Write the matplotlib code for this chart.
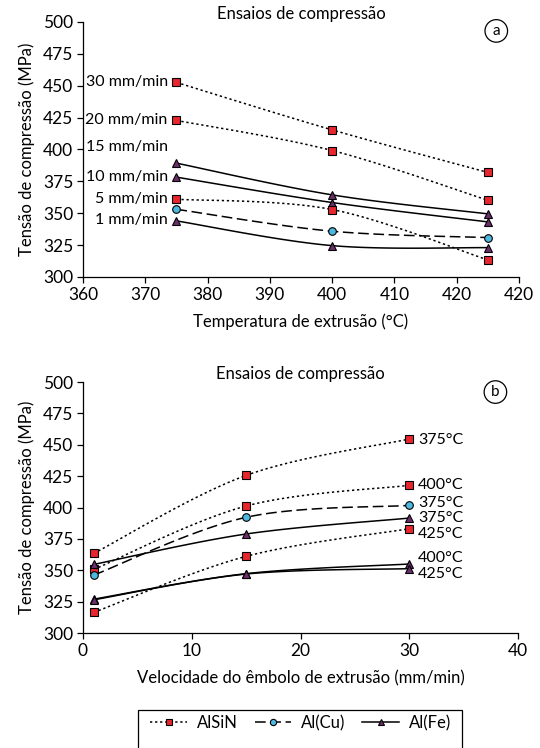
import numpy as np
import matplotlib
matplotlib.use('Agg')
import matplotlib.pyplot as plt
from matplotlib.lines import Line2D
from matplotlib.patches import Rectangle

plt.rcParams['font.family'] = ['Lato', 'DejaVu Sans']

# panel (a): stress vs extrusion temperature
temps = [375, 400, 425]
a_series = [
    # (alloy, label, values)
    ('AlSiN', '30 mm/min', [452.6, 415.4, 382.0]),
    ('AlSiN', '20 mm/min', [422.8, 399.2, 360.2]),
    ('AlFe', '15 mm/min', [389.3, 364.4, 349.5]),
    ('AlFe', '10 mm/min', [378.3, 358.4, 343.2]),
    ('AlSiN', '5 mm/min', [361.0, 352.9, 313.4]),
    ('AlCu', None, [353.1, 335.9, 330.9]),
    ('AlFe', '1 mm/min', [344.0, 324.6, 323.0]),
]
a_label_y = [452.6, 422.8, 402.0, 378.3, 361.5, 344.5]

# panel (b): stress vs ram speed
speeds = [1, 15, 30]
b_series = [
    ('AlSiN', '375°C', [363.5, 425.6, 454.6]),
    ('AlSiN', '400°C', [350.7, 401.2, 417.7]),
    ('AlCu', '375°C', [346.2, 392.2, 401.7]),
    ('AlFe', '375°C', [354.7, 378.9, 391.6]),
    ('AlSiN', '425°C', [316.5, 361.1, 383.1]),
    ('AlFe', '400°C', [327.0, 347.3, 355.0]),
    ('AlFe', '425°C', [326.5, 347.0, 351.3]),
]
b_label_y = [454.0, 417.7, 403.8, 392.0, 379.0, 359.8, 347.2]

styles = {
    'AlSiN': dict(ls=(0, (1.5, 1.8)), marker='s', mfc='#e8262d', ms=5.5),
    'AlCu': dict(ls=(0, (7, 3)), marker='o', mfc='#4db8e0', ms=5.5),
    'AlFe': dict(ls='-', marker='^', mfc='#6b2d6b', ms=6),
}
legend_names = {'AlSiN': 'AlSiN', 'AlCu': 'Al(Cu)', 'AlFe': 'Al(Fe)'}


def smooth(x, y, n=40):
    # excel-like smoothed line (catmull-rom bezier)
    x = np.asarray(x, float)
    y = np.asarray(y, float)
    px = np.concatenate([[x[0]], x, [x[-1]]])
    py = np.concatenate([[y[0]], y, [y[-1]]])
    xs, ys = [], []
    t = np.linspace(0, 1, n)
    for i in range(1, len(px) - 2):
        p0 = np.array([px[i], py[i]])
        p3 = np.array([px[i + 1], py[i + 1]])
        c1 = p0 + (np.array([px[i + 1], py[i + 1]]) - np.array([px[i - 1], py[i - 1]])) / 6
        c2 = p3 - (np.array([px[i + 2], py[i + 2]]) - np.array([px[i], py[i]])) / 6
        b = ((1 - t) ** 3)[:, None] * p0 + (3 * (1 - t) ** 2 * t)[:, None] * c1 \
            + (3 * (1 - t) * t ** 2)[:, None] * c2 + (t ** 3)[:, None] * p3
        xs.append(b[:, 0])
        ys.append(b[:, 1])
    return np.concatenate(xs), np.concatenate(ys)


def draw(ax, x, y, kind):
    st = styles[kind]
    sx, sy = smooth(x, y)
    ax.plot(sx, sy, color='black', lw=1.1, ls=st['ls'], zorder=2)
    ax.plot(x, y, ls='none', marker=st['marker'], mfc=st['mfc'], mec='black',
            mew=0.8, ms=st['ms'], zorder=3)


def style_axes(ax):
    ax.spines['top'].set_visible(False)
    ax.spines['right'].set_visible(False)
    ax.spines['left'].set_linewidth(0.9)
    ax.spines['bottom'].set_linewidth(0.9)
    ax.tick_params(direction='out', length=4, width=0.9, labelsize=12.5, pad=3)
    ax.set_ylim(300, 500)
    ax.set_yticks(np.arange(300, 501, 25))
    ax.set_ylabel('Tensão de compressão (MPa)', fontsize=12, labelpad=6)


fig = plt.figure(figsize=(5.4, 7.48), dpi=100)
ax1 = fig.add_axes([0.1537, 0.6297, 0.8073, 0.3409])
ax2 = fig.add_axes([0.1537, 0.1537, 0.8056, 0.3356])

# panel a
for kind, lab, vals in a_series:
    draw(ax1, temps, vals, kind)
labels_a = [s[1] for s in a_series if s[1] is not None]
for lab, yy in zip(labels_a, a_label_y):
    ax1.text(373.6, yy, lab, ha='right', va='center', fontsize=11.5)
style_axes(ax1)
ax1.set_xlim(360, 430)
ax1.set_xticks(np.arange(360, 431, 10))
ax1.set_xticklabels(['360', '370', '380', '390', '400', '410', '420', '420'])
ax1.set_xlabel('Temperatura de extrusão (°C)', fontsize=12, labelpad=8)
ax1.set_title('Ensaios de compressão', fontsize=12, pad=-2)
ax1.text(0.948, 0.965, 'a', transform=ax1.transAxes, ha='center', va='center',
         fontsize=11, bbox=dict(boxstyle='circle,pad=0.28', fc='white', ec='black', lw=0.9))

# panel b
for kind, lab, vals in b_series:
    draw(ax2, speeds, vals, kind)
for (kind, lab, vals), yy in zip(b_series, b_label_y):
    ax2.text(30.8, yy, lab, ha='left', va='center', fontsize=11.5)
style_axes(ax2)
ax2.set_xlim(0, 40)
ax2.set_xticks(np.arange(0, 41, 10))
ax2.set_xlabel('Velocidade do êmbolo de extrusão (mm/min)', fontsize=12, labelpad=8)
ax2.set_title('Ensaios de compressão', fontsize=12, pad=-2)
ax2.text(0.948, 0.96, 'b', transform=ax2.transAxes, ha='center', va='center',
         fontsize=11, bbox=dict(boxstyle='circle,pad=0.28', fc='white', ec='black', lw=0.9))

# legend with box running off the bottom edge
handles = []
for kind in ['AlSiN', 'AlCu', 'AlFe']:
    st = styles[kind]
    handles.append(Line2D([], [], color='black', lw=1.1, ls=st['ls'], marker=st['marker'],
                          mfc=st['mfc'], mec='black', mew=0.8, ms=st['ms'] - 1))
fig.legend(handles, [legend_names[k] for k in ['AlSiN', 'AlCu', 'AlFe']],
           loc='center', bbox_to_anchor=(0.557, 1 - 723 / 748), ncol=3, frameon=False,
           fontsize=12, handlelength=2.2, columnspacing=1.0, handletextpad=0.6)
fig.patches.append(Rectangle((138 / 540, -0.05), (462 - 138) / 540, 0.05 + 38 / 748,
                             transform=fig.transFigure, fill=False, ec='black', lw=0.9))

fig.savefig('out.png', dpi=100)
